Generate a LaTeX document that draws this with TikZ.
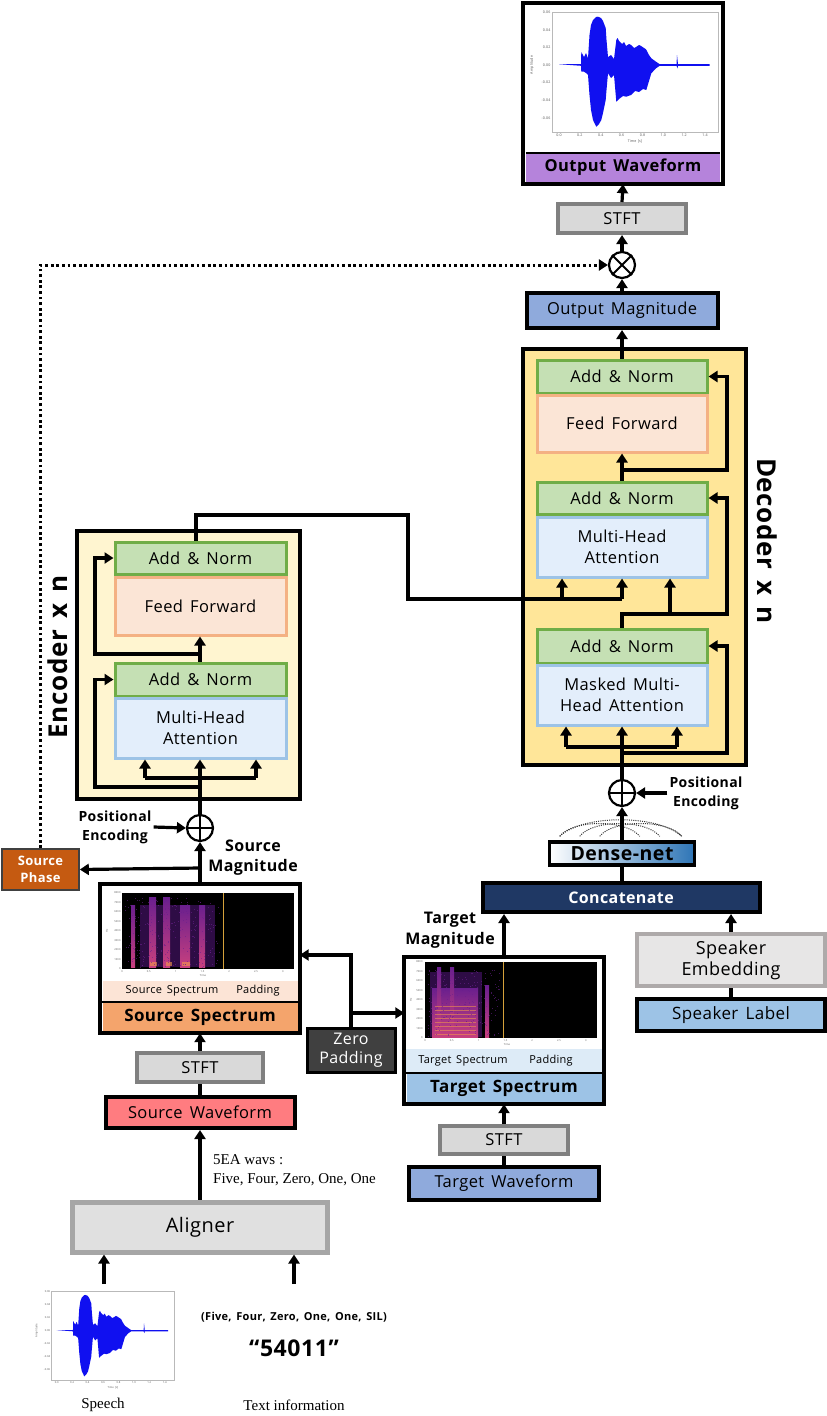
\documentclass[tikz,border=0pt]{standalone}
\usepackage{fontspec}
\setmainfont{Open Sans}[LetterSpace=2.5,WordSpace=1.5]
\newfontfamily\seriffont{Liberation Serif}
\usetikzlibrary{arrows.meta,calc}
\definecolor{decfill}{HTML}{FFE699}
\definecolor{encfill}{HTML}{FFF5D0}
\definecolor{anfill}{HTML}{C5E0B4}
\definecolor{anline}{HTML}{70AD47}
\definecolor{fffill}{HTML}{FBE5D6}
\definecolor{ffline}{HTML}{F4B183}
\definecolor{mhfill}{HTML}{E3EEFB}
\definecolor{mhline}{HTML}{9DC3E6}
\definecolor{owfill}{HTML}{B583DB}
\definecolor{omfill}{HTML}{8FAADC}
\definecolor{stfill}{HTML}{D9D9D9}
\definecolor{stline}{HTML}{808080}
\definecolor{spfill}{HTML}{C55A11}
\definecolor{ssbar}{HTML}{F4A46C}
\definecolor{ssstrip}{HTML}{FCE4D6}
\definecolor{swfill}{HTML}{FF7C80}
\definecolor{zpfill}{HTML}{404040}
\definecolor{tsbar}{HTML}{9DC3E6}
\definecolor{tsstrip}{HTML}{DDEBF7}
\definecolor{twfill}{HTML}{8FAADC}
\definecolor{ccfill}{HTML}{1F3864}
\definecolor{dnblue}{HTML}{2E75B6}
\definecolor{sefill}{HTML}{E7E6E6}
\definecolor{seline}{HTML}{AEAAAA}
\definecolor{slfill}{HTML}{9DC3E6}
\definecolor{alfill}{HTML}{E0E0E0}
\definecolor{alline}{HTML}{A6A6A6}
\definecolor{wblue}{HTML}{1010F0}
\definecolor{spurple}{HTML}{6A1F8E}
\definecolor{sdark}{HTML}{2E0C45}
\definecolor{smag}{HTML}{C8407E}
\definecolor{sorange}{HTML}{F59A4A}
\definecolor{syel}{HTML}{D4A03A}
\definecolor{tickgray}{HTML}{555555}
\newcommand\myfs[2]{\fontsize{#1}{#2}\selectfont}
\tikzset{
 wh/.style 2 args={minimum width=#1pt,minimum height=#2pt,inner sep=0pt,align=center},
 ln/.style={line width=3.2pt},
 arr/.style={line width=3.2pt,-{Triangle[length=9pt,width=11pt]}},
 dotarr/.style={line width=3pt,dash pattern=on 2.8pt off 2.8pt,-{Triangle[length=9pt,width=11pt]}},
 anbox/.style={draw=anline,fill=anfill,line width=3pt,font=\myfs{16.5}{20}},
 ffbox/.style={draw=ffline,fill=fffill,line width=3pt,font=\myfs{16.5}{20}},
 mhbox/.style={draw=mhline,fill=mhfill,line width=3pt,font=\myfs{16.5}{21}},
 blkbox/.style={draw=black,line width=4pt},
 stftbox/.style={draw=stline,fill=stfill,line width=4pt,font=\myfs{16.5}{19}},
 circ/.style={circle,draw=black,line width=2.2pt,fill=white,minimum size=26pt,inner sep=0pt},
 tick/.style={font=\myfs{3.6}{4},text=tickgray,inner sep=0.5pt},
 stick/.style={font=\myfs{2.6}{3},text=tickgray,inner sep=0.3pt},
 lbl/.style={align=center,inner sep=0pt},
 densedot/.style={line width=1pt,dash pattern=on 1pt off 1.2pt,draw=black!80},
}
% waveform in local coordinates: origin = (t=0, amplitude 0)
\newcommand\wavedraw[1]{%
 \draw[gray!55,line width=0.5pt] (-7,-53) rectangle (159,67);
 \fill[wblue] (0,-0.8) -- (22,-0.8) -- (22.3,-13) -- (25,-8) -- (27,-12) -- (29,-6.7) -- (30.5,-30) -- (32,-40) -- (34,-45) -- (37,-48) -- (39,-48.3) -- (42,-47) -- (44,-44) -- (46.7,-37) -- (47.5,-25) -- (49,-8) -- (52,-10) -- (55,-6) -- (57.3,-25) -- (58.5,-27) -- (60,-24) -- (63,-21) -- (65,-23) -- (67,-19) -- (70,-21) -- (72,-20) -- (75,-17) -- (77,-18) -- (80,-20) -- (82,-19) -- (85,-17) -- (87,-15.7) -- (90,-10) -- (92.3,-6.7) -- (97,-3.3) -- (100.7,-0.8) -- (117.5,-0.8) -- (118,-10) -- (119,-0.8) -- (150.7,-0.8) -- (150.7,0.8) -- (119,0.8) -- (118.5,3.3) -- (117.5,0.8) -- (100.7,0.8) -- (97,3.3) -- (92.3,8.3) -- (87.3,25) -- (84,24) -- (80,27) -- (76,26) -- (72,30) -- (67.3,31.7) -- (64,31) -- (60,34) -- (57.3,36.7) -- (55,10) -- (52,13) -- (49,8.3) -- (47.5,25) -- (46.7,35) -- (44,48) -- (42.3,55) -- (40,59) -- (37.3,61.7) -- (34,55) -- (32,45) -- (30.5,30) -- (29,10) -- (27,8) -- (25,6.7) -- (22.3,6.7) -- (22,0.8) -- cycle;
 \foreach \v/\l [count=\i] in {-52.8/0.06,-35.2/0.04,-17.6/0.02,0/0.00,17.6/-0.02,35.2/-0.04,52.8/-0.06}
   \node[tick,anchor=east] (#1y\i) at (-8,\v) {\l};
 \foreach \t/\l [count=\i] in {0/0.0,20.86/0.2,41.72/0.4,62.58/0.6,83.44/0.8,104.3/1.0,125.16/1.2,146.02/1.4}
   \node[tick,anchor=north] (#1x\i) at (\t,68.5) {\l};
 \node[tick,anchor=north] (#1tl) at (76,74.5) {Time [s]};
 \node[tick,rotate=90] (#1al) at (-27,0) {Amplitude};
}
\begin{document}
\begin{tikzpicture}[x=1pt,y=-1pt]
\useasboundingbox (0,0) rectangle (827,1416);
\fill[white] (0,0) rectangle (827,1416);

% ================= OUTPUT WAVEFORM =================
\node[fill=white,wh={200}{181}] (outwave) at (623,93.5) {};
\begin{scope}[shift={(559,65)}]
 \wavedraw{ow}
\end{scope}
\node[fill=owfill,wh={194}{29},font={\bfseries\myfs{16.5}{19}}] (owbar) at (623,167.5) {Output Waveform};
\draw[line width=1.6pt] (owbar.north west) -- (owbar.north east);
\draw[blkbox] (outwave.north west) rectangle (outwave.south east);

\node[stftbox,wh={128}{29}] (stft3) at (622,218.5) {STFT};
\node[circ] (otimes) at (622,265) {};
\draw[line width=2pt] (otimes.north west) -- (otimes.south east) (otimes.north east) -- (otimes.south west);
\node[blkbox,fill=omfill,wh={191}{35},font=\myfs{16.5}{19}] (outmag) at (622,310.5) {Output Magnitude};

% ================= DECODER =================
\node[draw,line width=3.5pt,fill=decfill,wh={223}{416}] (decbox) at (634.5,557) {};
\node[lbl,rotate=-90,font={\bfseries\myfs{26}{30}}] (declab) at (767,541) {Decoder x n};
\node[anbox,wh={170}{33}] (an1) at (622,376.5) {Add \& Norm};
\node[ffbox,wh={170}{57}] (ff1) at (622,423.5) {Feed Forward};
\node[anbox,wh={170}{32}] (an2) at (622,498) {Add \& Norm};
\node[mhbox,wh={170}{60}] (mha2) at (622,547) {Multi-Head\\Attention};
\node[anbox,wh={170}{34}] (an3) at (622,646) {Add \& Norm};
\node[mhbox,wh={170}{60}] (mmha) at (622,695) {Masked Multi-\\Head Attention};

% ================= ENCODER =================
\node[draw,line width=3.5pt,fill=encfill,wh={223}{268}] (encbox) at (188.5,665) {};
\node[lbl,rotate=90,font={\bfseries\myfs{26}{30}}] (enclab) at (58,657) {Encoder x n};
\node[anbox,wh={171}{32}] (ean1) at (200.5,558) {Add \& Norm};
\node[ffbox,wh={171}{58}] (eff) at (200.5,606) {Feed Forward};
\node[anbox,wh={171}{33}] (ean2) at (200.5,679.5) {Add \& Norm};
\node[mhbox,wh={171}{60}] (emha) at (200.5,728) {Multi-Head\\Attention};

\node[circ] (pe1) at (200,828) {};
\draw[line width=2pt] (pe1.north) -- (pe1.south) (pe1.west) -- (pe1.east);
\node[lbl,font={\bfseries\myfs{14}{19}}] (petxt1) at (115,827) {Positional\\Encoding};
\node[lbl,font={\bfseries\myfs{16}{20}}] (smagtxt) at (253,858) {Source\\Magnitude};
\node[draw=black!75,line width=1.6pt,fill=spfill,text=white,wh={77}{41},font={\bfseries\myfs{13}{17}}] (sphase) at (40.5,869.5) {Source\\Phase};

% ================= SOURCE SPECTRUM =================
\node[fill=white,wh={199}{149}] (srcspec) at (200,958.5) {};
\fill[black] (122,893) rectangle (294,969);
\fill[sdark] (140,905) rectangle (215,967);
\foreach \a/\b/\t in {131/135/905,149/156/897,163/170/897,180/190/905,199/205/905}
  \shade[top color=spurple,bottom color=smag] (\a,\t) rectangle (\b,967);
\foreach \a/\b in {150/157,166/172,182/190}
  \fill[sorange,opacity=.6] (\a,962) rectangle (\b,966);
\pgfmathsetseed{7}
\foreach \i in {1,...,260}{\pgfmathsetmacro\xx{125+95*rnd}\pgfmathsetmacro\yy{897+70*rnd}
  \fill[spurple,opacity=.6] (\xx,\yy) rectangle ++(1,1);}
\draw[syel,line width=1pt] (223,893) -- (223,969);
\foreach \l [count=\i] in {8000,7000,...,0}{\pgfmathsetmacro\yy{893+(\i-1)*9.5}
  \node[stick,anchor=east] (ssy\i) at (121,\yy) {\l};}
\foreach \l [count=\i] in {0,0.5,1,1.5,2,2.5,3}{\pgfmathsetmacro\xx{122+(\i-1)*26.8}
  \node[stick,anchor=north] (ssx\i) at (\xx,970) {\l};}
\node[stick,anchor=north] (sstime) at (203,974.5) {Time};
\node[stick,rotate=90] (sshz) at (107,931) {Hz};
\fill[ssstrip] (102.5,980.5) rectangle (297.5,1001);
\node[font=\myfs{11}{13}] (ssl1) at (172,990.5) {Source Spectrum};
\node[font=\myfs{11}{13}] (ssl2) at (258,990.5) {Padding};
\node[fill=ssbar,wh={195}{29},font={\bfseries\myfs{17}{20}}] (ssbarn) at (200,1017) {Source Spectrum};
\draw[line width=2pt] (ssbarn.north west) -- (ssbarn.north east);
\draw[blkbox] (srcspec.north west) rectangle (srcspec.south east);

\node[stftbox,wh={126}{29}] (sstft) at (200,1067.5) {STFT};
\node[blkbox,fill=swfill,wh={189}{31},font=\myfs{16.5}{19}] (swave) at (200,1112.5) {Source Waveform};
\node[draw=black,line width=3pt,fill=zpfill,text=white,wh={88}{44},font=\myfs{16}{19}] (zp) at (351,1050) {Zero\\Padding};

% ================= TARGET SPECTRUM =================
\node[fill=white,wh={199}{147}] (tgtspec) at (504,1030.5) {};
\fill[black] (425,962) rectangle (597,1038);
\fill[sdark] (430,972) rectangle (482,1037);
\shade[top color=spurple,bottom color=smag] (432,988) rectangle (478,1037);
\foreach \a/\b/\t in {437/441/967,450/454/967,485/489/985}
  \shade[top color=spurple,bottom color=smag] (\a,\t) rectangle (\b,1037);
\foreach \yy in {1006,1010,...,1034}
  \draw[sorange,line width=0.6pt,opacity=.55] (435,\yy) -- (476,\yy);
\pgfmathsetseed{11}
\foreach \i in {1,...,200}{\pgfmathsetmacro\xx{428+72*rnd}\pgfmathsetmacro\yy{970+66*rnd}
  \fill[spurple,opacity=.6] (\xx,\yy) rectangle ++(1,1);}
\draw[syel,line width=1pt] (503,962) -- (503,1038);
\foreach \l [count=\i] in {8000,7000,...,0}{\pgfmathsetmacro\yy{962+(\i-1)*9.5}
  \node[stick,anchor=east] (tsy\i) at (423,\yy) {\l};}
\foreach \l [count=\i] in {0,0.5,1,1.5,2,2.5,3}{\pgfmathsetmacro\xx{425+(\i-1)*26.8}
  \node[stick,anchor=north] (tsx\i) at (\xx,1039) {\l};}
\node[stick,anchor=north] (tstime) at (507,1043) {Time};
\node[stick,rotate=90] (tshz) at (411,1000) {Hz};
\fill[tsstrip] (406,1048.5) rectangle (602,1072);
\node[font=\myfs{11}{13}] (tsl1) at (463,1061) {Target Spectrum};
\node[font=\myfs{11}{13}] (tsl2) at (551,1061) {Padding};
\node[fill=tsbar,wh={195}{29},font={\bfseries\myfs{17}{20}}] (tsbarn) at (504,1088) {Target Spectrum};
\draw[line width=2pt] (tsbarn.north west) -- (tsbarn.north east);
\draw[blkbox] (tgtspec.north west) rectangle (tgtspec.south east);
\node[lbl,font={\bfseries\myfs{16}{21}}] (tmagtxt) at (450,930) {Target\\Magnitude};

\node[stftbox,wh={128}{28}] (tstft) at (504,1140) {STFT};
\node[blkbox,fill=twfill,wh={190}{33},font=\myfs{16.5}{19}] (twave) at (504,1183.5) {Target Waveform};

% ================= CONCAT / DENSE =================
\node[blkbox,fill=ccfill,text=white,wh={277}{29},font={\bfseries\myfs{16}{19}}] (concat) at (621,897.5) {Concatenate};
\node[draw=black,line width=3.5pt,left color=white,right color=dnblue,wh={145}{23},font={\bfseries\myfs{19.5}{21}}] (dense) at (622,853.5) {Dense-net};
\draw[densedot] ($(dense.north west)+(12,-4)$) .. controls ($(dense.north west)+(25,-21)$) and ($(dense.north west)+(78,-21)$) .. ($(dense.north west)+(92,-4)$);
\draw[densedot] ($(dense.north west)+(32,-4)$) .. controls ($(dense.north west)+(45,-21)$) and ($(dense.north west)+(98,-21)$) .. ($(dense.north west)+(112,-4)$);
\draw[densedot] ($(dense.north west)+(52,-4)$) .. controls ($(dense.north west)+(65,-21)$) and ($(dense.north west)+(120,-21)$) .. ($(dense.north west)+(134,-4)$);
\draw[densedot] ($(dense.north west)+(12,-4)$) .. controls ($(dense.north west)+(35,-26)$) and ($(dense.north west)+(110,-26)$) .. ($(dense.north west)+(134,-4)$);
\node[circ] (pe2) at (622,793) {};
\draw[line width=2pt] (pe2.north) -- (pe2.south) (pe2.west) -- (pe2.east);
\node[lbl,font={\bfseries\myfs{14}{19}}] (petxt2) at (706,793) {Positional\\Encoding};

\node[draw=seline,line width=4pt,fill=sefill,wh={188}{52},font=\myfs{18}{21}] (spemb) at (731,960) {Speaker\\Embedding};
\node[blkbox,fill=slfill,wh={188}{32},font=\myfs{17}{20}] (splab) at (731,1015) {Speaker Label};

% ================= ALIGNER / INPUTS =================
\node[draw=alline,line width=5pt,fill=alfill,wh={255}{50},font=\myfs{20}{24}] (aligner) at (200,1227) {Aligner};
\node[anchor=west,align=left,inner sep=0pt,font={\seriffont\myfs{15}{19}}] (wavtxt) at (213,1170) {5EA wavs :\\Five, Four, Zero, One, One};
\begin{scope}[shift={(56.7,1330.7)},scale=0.74,transform shape]
 \wavedraw{sp}
\end{scope}
\node[lbl,font={\bfseries\myfs{11}{13}}] (siltxt) at (294,1317) {(Five, Four, Zero, One, One, SIL)};
\node[lbl,font={\bfseries\myfs{23}{26}}] (numtxt) at (294,1348) {“54011”};
\node[lbl,font={\seriffont\myfs{15}{18}}] (speechtxt) at (103,1405) {Speech};
\node[lbl,font={\seriffont\myfs{15}{18}}] (texttxt) at (294,1405) {Text information};
\coordinate (spin) at (104,1284);
\coordinate (txin) at (294,1284);

% ================= CONNECTORS =================
\draw[arr] (outmag.north) -- (otimes.south);
\draw[arr] (otimes.north) -- (stft3.south);
\draw[arr] (stft3.north) -- (outwave.south);
\draw[arr] (an1.north) -- (outmag.south);
\draw[arr] (pe2.north) -- (mmha.south);
\draw[ln] (566,747) -- (677,747);
\draw[arr] (566,747) -- ([xshift=-56pt]mmha.south);
\draw[arr] (677,747) -- ([xshift=55pt]mmha.south);
\draw[arr] (622,753) -| (727,646) -- (an3.east);
\draw[arr] (an3.north) -- (622,614) -| (727,498) -- (an2.east);
\draw[arr] (670,614) -- ([xshift=48pt]mha2.south);
\draw[arr] (an2.north) -- (622,470) -| (727,376.5) -- (an1.east);
\draw[arr] (622,470) -- (ff1.south);
\draw[ln] ([xshift=-4.5pt]ean1.north) -- (196,515) -| (408,599) -- (622,599);
\draw[arr] (562,599) -- ([xshift=-60pt]mha2.south);
\draw[arr] (622,599) -- (mha2.south);
\draw[arr] (pe1.north) -- ([xshift=-0.5pt]emha.south);
\draw[ln] (145,778) -- (256,778);
\draw[arr] (145,778) -- ([xshift=-55.5pt]emha.south);
\draw[arr] (256,778) -- ([xshift=55.5pt]emha.south);
\draw[arr] (200,787) -| (95,679.5) -- (ean2.west);
\draw[arr] ([xshift=-0.5pt]ean2.north) -- (200,654) -| (95,558) -- (ean1.west);
\draw[arr] (200,654) -- ([xshift=-0.5pt]eff.south);
\draw[arr] ([xshift=2pt]petxt1.east) -- (pe1.west);
\draw[arr] (srcspec.north) -- (pe1.south);
\draw[arr] (200,868) -- (sphase.east);
\draw[dotarr] (sphase.north) -- (40.5,265) -- (otimes.west);
\draw[arr] (sstft.north) -- (srcspec.south);
\draw[ln] (swave.north) -- (sstft.south);
\draw[arr] (aligner.north) -- (swave.south);
\draw[arr] (spin) -- ([xshift=-96pt]aligner.south);
\draw[arr] (txin) -- ([xshift=94pt]aligner.south);
\draw[arr] (zp.north) -- (351,955) -- ([yshift=3.5pt]srcspec.east);
\draw[arr] (351,1013) -- ([yshift=17.5pt]tgtspec.west);
\draw[arr] (tgtspec.north) -- (tgtspec.north |- concat.south);
\draw[arr] (tstft.north) -- (tgtspec.south);
\draw[ln] (twave.north) -- (tstft.south);
\draw[ln] (concat.north -| dense.south) -- (dense.south);
\draw[arr] (dense.north) -- (pe2.south);
\draw[arr] ([xshift=-2pt]petxt2.west) -- (pe2.east);
\draw[arr] (spemb.north) -- (spemb.north |- concat.south);
\draw[ln] (splab.north) -- (spemb.south);
\end{tikzpicture}
\end{document}
